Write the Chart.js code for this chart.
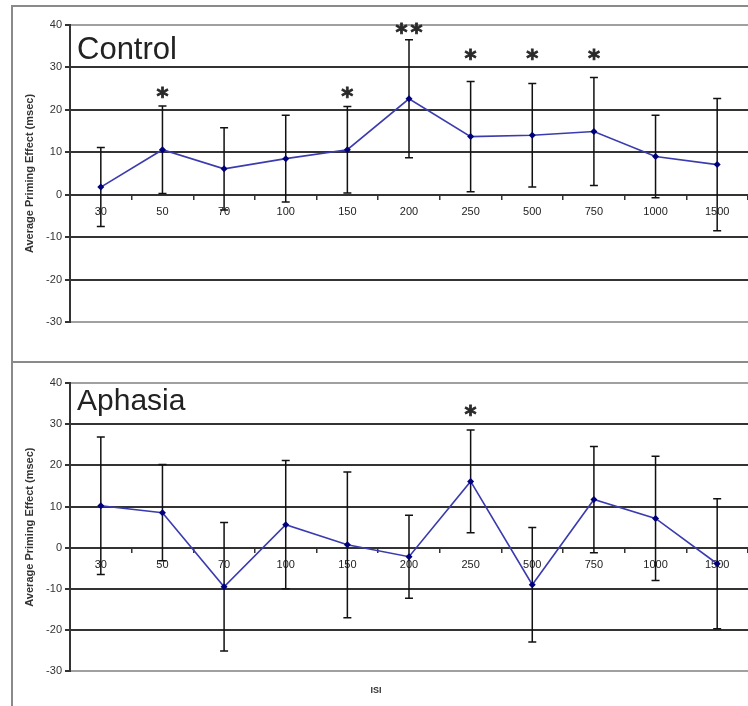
<!DOCTYPE html>
<html>
<head>
<meta charset="utf-8">
<script src="https://cdn.jsdelivr.net/npm/chart.js@4.4.1/dist/chart.umd.min.js"></script>
<style>
body { margin:0; background:#fff; }
#wrap { position:relative; width:748px; height:706px; overflow:hidden; background:#fff; }
.panel { position:absolute; border:2px solid #8a8a8a; }
#p1 { left:11px; top:5px; width:760px; height:354px; }
#p2 { left:11px; top:361px; width:760px; height:400px; }
canvas { position:absolute; left:0; }
.lbl { position:absolute; left:77px; line-height:1; font-family:"Liberation Sans", Arial, sans-serif; color:#222; }
</style>
</head>
<body>
<div id="wrap">
  <div class="panel" id="p1"></div>
  <div class="panel" id="p2"></div>
  <canvas id="c1" width="752" height="362" style="top:0;width:752px;height:362px"></canvas>
  <canvas id="c2" width="752" height="344" style="top:362px;width:752px;height:344px"></canvas>
  <div class="lbl" style="top:33px;font-size:31px">Control</div>
  <div class="lbl" style="top:385px;font-size:30px">Aphasia</div>
</div>
<script>
var isi = ['30', '50', '70', '100', '150', '200', '250', '500', '750', '1000', '1500'];
var yTicks = [-30, -20, -10, 0, 10, 20, 30, 40];

// control group: mean priming effect and error bar half-length (msec)
var controlMean = [1.8, 10.6, 6.1, 8.5, 10.6, 22.6, 13.7, 14.0, 14.9, 9.0, 7.1];
var controlErr = [9.3, 10.3, 9.7, 10.2, 10.2, 13.9, 13.0, 12.2, 12.7, 9.7, 15.6];
var controlStars = ['', '*', '', '', '*', '**', '*', '*', '*', '', ''];
var controlStarY = [null, 24.0, null, null, 24.0, 39.2, 33, 33, 33, null, null];

// aphasia group
var aphasiaMean = [10.2, 8.5, -9.5, 5.6, 0.7, -2.2, 16.1, -9.0, 11.7, 7.1, -3.9];
var aphasiaErr = [16.7, 11.7, 15.6, 15.6, 17.7, 10.1, 12.5, 13.9, 12.9, 15.1, 15.8];
var aphasiaStars = ['', '', '', '', '', '', '*', '', '', '', ''];
var aphasiaStarY = [null, null, null, null, null, null, 33.2, null, null, null, null];

var FONT = '"Liberation Sans", Arial, sans-serif';

function makeChart(id, means, errs, stars, starY, padTop, padBottom, xTitle) {
	var marks = {
		id: 'marks',
		beforeDatasetsDraw: function(chart) {
			var x = chart.scales.x, y = chart.scales.y, ctx = chart.ctx;
			ctx.save();
			ctx.strokeStyle = '#111';
			ctx.lineWidth = 1.5;
			for (var i = 0; i < means.length; i++) {
				var px = x.getPixelForValue(i);
				var top = y.getPixelForValue(means[i] + errs[i]);
				var bot = y.getPixelForValue(means[i] - errs[i]);
				ctx.beginPath();
				ctx.moveTo(px, top); ctx.lineTo(px, bot);
				ctx.moveTo(px - 4, top); ctx.lineTo(px + 4, top);
				ctx.moveTo(px - 4, bot); ctx.lineTo(px + 4, bot);
				ctx.stroke();
			}
			ctx.restore();
		},
		afterDatasetsDraw: function(chart) {
			var x = chart.scales.x, y = chart.scales.y, ctx = chart.ctx;
			ctx.save();
			ctx.fillStyle = '#2a2a2a';
			ctx.strokeStyle = '#2a2a2a';
			ctx.lineWidth = 0.8;
			ctx.font = 'bold 23px "DejaVu Sans"';
			ctx.textAlign = 'center';
			ctx.textBaseline = 'alphabetic';
			var m = ctx.measureText('*');
			var mid = (m.actualBoundingBoxAscent - m.actualBoundingBoxDescent) / 2;
			for (var i = 0; i < stars.length; i++) {
				if (!stars[i]) continue;
				var px = x.getPixelForValue(i);
				var py = y.getPixelForValue(starY[i]);
				var n = stars[i].length;
				for (var k = 0; k < n; k++) {
					var sx = px + (k - (n - 1) / 2) * 15;
					ctx.fillText('*', sx, py + mid);
					ctx.strokeText('*', sx, py + mid);
				}
			}
			ctx.restore();
		}
	};

	var ctx = document.getElementById(id);
	return new Chart(ctx, {
		type: 'line',
		data: {
			labels: isi,
			datasets: [{
				data: means,
				borderColor: '#3b3bb0',
				borderWidth: 1.6,
				pointStyle: 'rectRot',
				pointRadius: 3.5,
				pointBackgroundColor: '#00007a',
				pointBorderColor: '#00007a',
				pointBorderWidth: 0,
				tension: 0
			}]
		},
		options: {
			responsive: false,
			animation: false,
			layout: { padding: { top: padTop, bottom: padBottom, left: 0, right: 0 } },
			plugins: {
				legend: { display: false },
				tooltip: { enabled: false },
				title: {
					display: !!xTitle,
					text: xTitle || '',
					position: 'bottom',
					color: '#333',
					font: { family: FONT, size: 9, weight: 'bold' },
					padding: { top: 14, bottom: 10 }
				}
			},
			scales: {
				x: {
					type: 'category',
					offset: true,
					position: { y: 0 },
					grid: { offset: true, drawOnChartArea: false, drawTicks: true, tickLength: 4, color: '#333', lineWidth: 1.5 },
					border: { color: '#333', width: 2 },
					ticks: { color: '#222', font: { family: FONT, size: 11 }, padding: 7, maxRotation: 0, autoSkip: false }
				},
				y: {
					min: yTicks[0],
					max: yTicks[yTicks.length - 1],
					afterBuildTicks: function(s) { s.ticks = yTicks.map(function(v) { return { value: v }; }); },
					afterFit: function(s) { s.width = 70; },
					grid: {
						color: function(c) { return (c.tick && (c.tick.value === 40 || c.tick.value === -30)) ? '#a0a0a0' : '#333'; },
						lineWidth: 2,
						tickLength: 5,
						tickColor: '#333'
					},
					border: { color: '#333', width: 2 },
					ticks: { color: '#333', font: { family: FONT, size: 11 }, padding: 3 },
					title: {
						display: true,
						text: 'Average Priming Effect (msec)',
						color: '#333',
						font: { family: FONT, size: 11, weight: 'bold' },
						padding: { top: 23, bottom: 0 }
					}
				}
			}
		},
		plugins: [marks]
	});
}

makeChart('c1', controlMean, controlErr, controlStars, controlStarY, 25, 40, null);
makeChart('c2', aphasiaMean, aphasiaErr, aphasiaStars, aphasiaStarY, 21, 0, 'ISI');
</script>
</body>
</html>
